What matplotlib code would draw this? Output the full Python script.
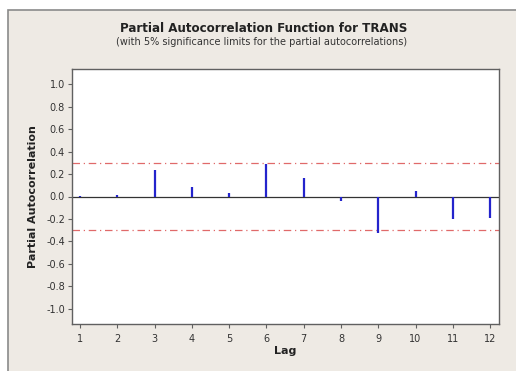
import matplotlib
matplotlib.use("Agg")
import matplotlib.pyplot as plt
from matplotlib.patches import Rectangle

# partial autocorrelations of TRANS, lags 1..12
lags = [1, 2, 3, 4, 5, 6, 7, 8, 9, 10, 11, 12]
pacf = [0.003, 0.01, 0.236, 0.089, 0.035, 0.293, 0.169, -0.044, -0.329, 0.05, -0.196, -0.187]
sig_limit = 0.296
yticks = [1.0, 0.8, 0.6, 0.4, 0.2, 0.0, -0.2, -0.4, -0.6, -0.8, -1.0]

bg = "#eeeae4"

fig = plt.figure(figsize=(5.16, 3.71), dpi=100)
fig.patch.set_facecolor("white")

# beige panel with grey border on top/left
panel = Rectangle((8 / 516, -0.05), 1.05, (361 / 371) + 0.05,
                  transform=fig.transFigure, facecolor=bg,
                  edgecolor="#8a8a8a", linewidth=1.2, zorder=-10)
fig.patches.append(panel)

ax = fig.add_axes([72 / 516, 47 / 371, 427 / 516, 255 / 371])
ax.set_facecolor("white")

ax.axhline(0, color="#333333", linewidth=0.9, zorder=2)
ax.axhline(sig_limit, color="#e06a6a", linewidth=0.9, linestyle=(0, (6, 3, 1, 3)), zorder=1)
ax.axhline(-sig_limit, color="#e06a6a", linewidth=0.9, linestyle=(0, (6, 3, 1, 3)), zorder=1)
ax.vlines(lags, 0, pacf, color="#2424cc", linewidth=1.6, zorder=3)

ax.set_xlim(0.78, 12.24)
ax.set_ylim(-1.135, 1.135)
ax.set_xticks(lags)
ax.set_xticklabels([str(l) for l in lags])
ax.set_yticks(yticks)
ax.set_yticklabels([f"{v:.1f}" for v in yticks])

for s in ax.spines.values():
    s.set_color("#606060")
    s.set_linewidth(1.0)
ax.tick_params(direction="out", length=3, width=0.8, color="#606060",
               labelsize=7, labelcolor="#333333", pad=2)
ax.tick_params(axis="x", pad=4)

ax.set_xlabel("Lag", fontsize=8, fontweight="bold", color="#222222", labelpad=2)
ax.set_ylabel("Partial Autocorrelation", fontsize=8, fontweight="bold",
              color="#222222", labelpad=6)

fig.text(264 / 516, 1 - 28 / 371, "Partial Autocorrelation Function for TRANS",
         ha="center", va="center", fontsize=8.6, fontweight="bold", color="#222222")
fig.text(262 / 516, 1 - 42 / 371,
         "(with 5% significance limits for the partial autocorrelations)",
         ha="center", va="center", fontsize=7, color="#333333")

fig.savefig("out.png", dpi=100, facecolor=fig.get_facecolor())
